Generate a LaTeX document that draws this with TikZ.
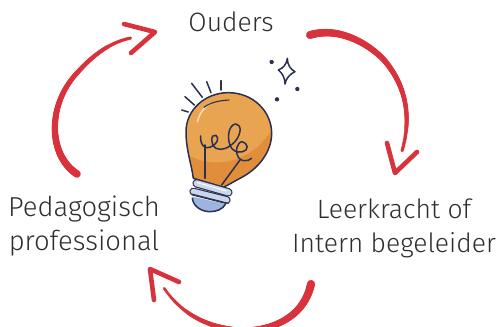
\documentclass[tikz,border=0pt]{standalone}
\usepackage{fontspec}
\setmainfont{Fira Sans Light}
\usetikzlibrary{decorations.markings}
\definecolor{arrowred}{HTML}{D8323C}
\definecolor{navy}{HTML}{2B3050}
\definecolor{glass}{HTML}{E9A452}
\definecolor{glassdark}{HTML}{E08E3C}
\definecolor{capblue}{HTML}{9DB4E0}
\definecolor{thread}{HTML}{C9D6EC}
\definecolor{ink}{HTML}{2E2E2E}
\tikzset{
  label/.style={font=\fontsize{26.5}{34}\selectfont, text=ink, align=center, inner sep=0pt},
  labelwide/.style={label, font=\fontsize{27.4}{34}\selectfont},
  head/.style={draw=arrowred, line width=4.6pt, line cap=round, line join=round},
  taper/.style n args={2}{decoration={markings,
    mark=between positions 0 and 1 step 0.005 with {
      \pgfmathsetmacro\rr{#1+(#2-#1)*\pgfkeysvalueof{/pgf/decoration/mark info/sequence number}/201}
      \fill[arrowred] (0,0) circle[radius=\rr pt];
    }}, postaction={decorate}},
  bulbline/.style={draw=navy, line width=1.5pt, line cap=round, line join=round},
}
\begin{document}
\begin{tikzpicture}[x=1pt,y=-1pt]
\useasboundingbox (0,0) rectangle (496,327);
\clip (0,0) rectangle (496,327);
% labels
\node[label] (ouders) at (231,22) {Ouders};
\node[labelwide] (ped) at (84,226) {Pedagogisch\\professional};
\node[label] (leer) at (394,228) {Leerkracht of\\Intern begeleider};
% arrow ends
\coordinate (a1s) at (77,174); \coordinate (a1e) at (131,38); \coordinate (a1t) at (155,32);
\coordinate (a2s) at (310,35); \coordinate (a2e) at (402,151); \coordinate (a2t) at (395,173);
\coordinate (a3s) at (311,284); \coordinate (a3e) at (164,288); \coordinate (a3t) at (150,269);
% arrows
\path[taper={3.8}{1.7}] (a1s) .. controls (48,155) and (47,105) .. (77,73) .. controls (92,56) and (110,42) .. (a1e);
\draw[head] (124,24) -- (a1t) -- (131,53);
\path[taper={4.0}{1.7}] (a2s) .. controls (340,26) and (370,45) .. (384,60) .. controls (408,88) and (411,120) .. (a2e);
\draw[head] (387,143) -- (a2t) -- (417,152);
\path[taper={4.1}{1.5}] (a3s) .. controls (303,322) and (264,332) .. (238,330) .. controls (205,327) and (180,312) .. (a3e);
\draw[head] (179,282) -- (a3t) -- (154,300);
% bulb
\begin{scope}[shift={(160,50)},x=0.3333pt,y=-0.3333pt]
  \def\glasspath{(100,385) .. controls (95,345) and (78,300) .. (78,245) .. controls (78,180) and (135,128) .. (205,128) .. controls (280,128) and (335,185) .. (335,250) .. controls (335,310) and (290,360) .. (240,385) .. controls (225,393) and (205,405) .. (190,412) -- cycle}
  \fill[glass] \glasspath;
  \begin{scope}
    \clip \glasspath;
    \fill[glassdark] (60,300) .. controls (150,370) and (290,340) .. (345,220) -- (345,430) -- (60,430) -- cycle;
  \end{scope}
  \draw[bulbline] \glasspath;
  % highlight
  \draw[draw=glass!35!white, line width=1.4pt, line cap=round] (112,216) .. controls (120,185) and (135,170) .. (152,160);
  \draw[draw=navy, line width=1.1pt, line cap=round] (132,172) .. controls (150,158) and (175,152) .. (207,150);
  % filament
  \draw[bulbline] (135,385) -- (135,285);
  \draw[bulbline] (185,405) -- (240,330);
  \draw[bulbline] (122,258) .. controls (120,285) and (135,298) .. (150,292) .. controls (170,285) and (180,265) .. (168,256) .. controls (152,250) and (150,285) .. (168,295) .. controls (185,303) and (205,295) .. (225,275) .. controls (245,250) and (245,225) .. (228,222) .. controls (205,222) and (198,270) .. (215,295) .. controls (225,308) and (245,310) .. (258,300) .. controls (270,290) and (250,265) .. (237,280) .. controls (225,295) and (225,325) .. (250,332) .. controls (260,334) and (270,330) .. (275,325);
  % cap
  \fill[capblue] (97,440) .. controls (95,470) and (125,485) .. (150,485) .. controls (170,485) and (188,478) .. (197,462) -- cycle;
  \draw[bulbline] (97,445) .. controls (100,470) and (125,485) .. (150,485) .. controls (170,485) and (188,478) .. (197,462);
  % threads
  \draw[navy, line width=8.6pt, line cap=round] (110,400) -- (205,427);
  \draw[thread, line width=6.2pt, line cap=round] (110,400) -- (205,427);
  \draw[navy, line width=8pt, line cap=round] (100,425) -- (200,450);
  \draw[thread, line width=5.6pt, line cap=round] (100,425) -- (200,450);
  \draw[white, line width=1pt, line cap=round] (112,398) -- (200,423);
  \draw[navy, line width=1pt, line cap=round] (95,432) -- (205,460);
  % rays
  \foreach \ax/\ay/\bx/\by in {183/92/183/120,140/95/153/128,95/100/127/142,75/140/103/165,65/180/85/186}
    \draw[bulbline] (\ax,\ay) -- (\bx,\by);
  % sparkle
  \fill[navy] (335,36) circle[radius=6.5] (412,117) circle[radius=6.5] (351,148) circle[radius=6.5];
  \draw[bulbline] (382,25) .. controls (382,45) and (392,58) .. (405,65) .. controls (390,72) and (378,85) .. (375,102) .. controls (375,85) and (368,70) .. (355,60) .. controls (370,55) and (380,42) .. cycle;
\end{scope}
\end{tikzpicture}
\end{document}
